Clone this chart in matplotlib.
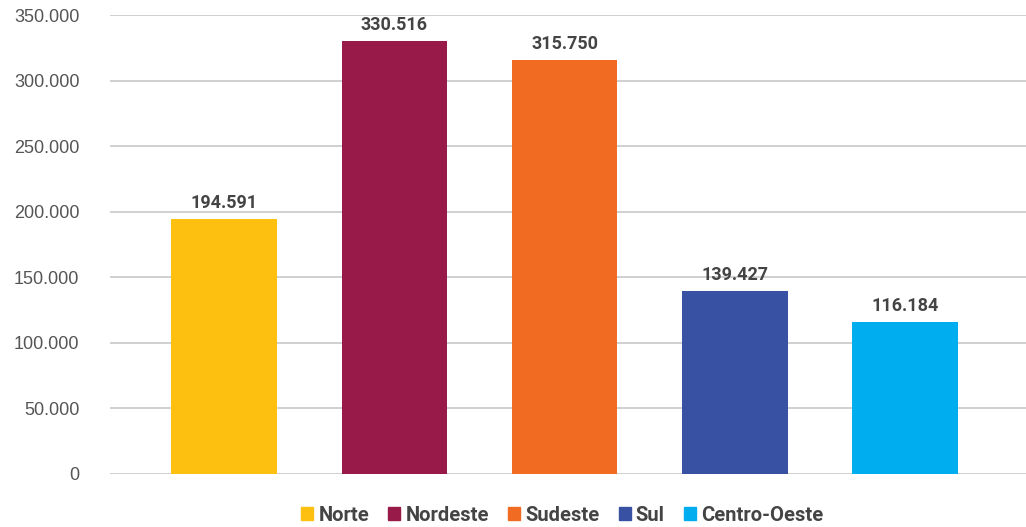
import numpy as np
import matplotlib.pyplot as plt
from matplotlib.patches import Patch
from matplotlib.ticker import FuncFormatter

regions = ["Norte", "Nordeste", "Sudeste", "Sul", "Centro-Oeste"]
values = [194591, 330516, 315750, 139427, 116184]
colors = ["#FDC010", "#981A48", "#F26B22", "#3951A3", "#00AEEF"]


def fmt(v, pos=None):
    return "{:,.0f}".format(v).replace(",", ".")


fig = plt.figure(figsize=(10.26, 5.27), dpi=100)
ax = fig.add_axes([0.1072, 0.1006, 0.8928, 0.8709])

x = np.arange(len(regions))
ax.bar(x, values, width=0.62, color=colors, zorder=3)

for xi, v in zip(x, values):
    ax.annotate(fmt(v), (xi, v), xytext=(0, 5), textcoords="offset points",
                ha="center", va="bottom", fontsize=13, fontweight="bold",
                color="#444444", family="Roboto")

ax.set_ylim(0, 350000)
ax.set_xlim(-0.67, 4.71)
ax.set_yticks(np.arange(0, 350001, 50000))
ax.yaxis.set_major_formatter(FuncFormatter(fmt))
ax.set_xticks([])
ax.grid(axis="y", color="#c8c8c8", linewidth=1.2, zorder=0)
for s in ax.spines.values():
    s.set_visible(False)
ax.tick_params(axis="y", length=0, pad=22, labelsize=13, labelcolor="#555555")
for lab in ax.get_yticklabels():
    lab.set_family("Liberation Sans")

handles = [Patch(color=c, label=r) for c, r in zip(colors, regions)]
fig.legend(handles=handles, loc="center", bbox_to_anchor=(0.548, 0.022),
           ncol=5, frameon=False, handlelength=0.6, handleheight=0.6,
           handletextpad=0.25, columnspacing=0.95,
           prop={"family": "Roboto", "weight": "bold", "size": 14.5})
for t in fig.legends[0].get_texts():
    t.set_color("#444444")

fig.savefig("out.png", dpi=100)
